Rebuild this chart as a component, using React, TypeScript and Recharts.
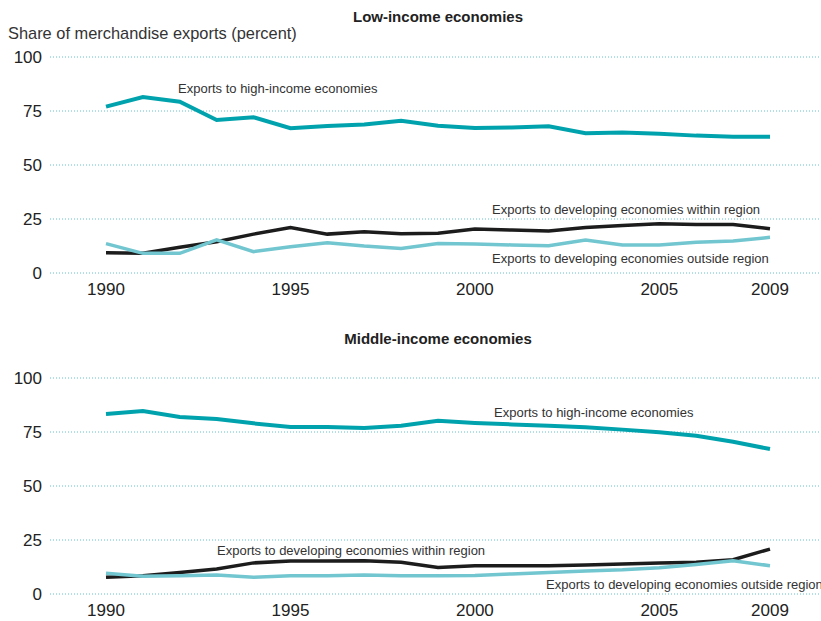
import React from "react";
import { CartesianGrid, Line, LineChart, XAxis, YAxis } from "recharts";

const years = [
  "1990", "1991", "1992", "1993", "1994", "1995", "1996", "1997", "1998", "1999",
  "2000", "2001", "2002", "2003", "2004", "2005", "2006", "2007", "2009",
];
const xTicks = ["1990", "1995", "2000", "2005", "2009"];
const yTicks = [0, 25, 50, 75, 100];

// Low-income economies
const highIncomeLow = [77, 81.5, 79.3, 70.8, 72.1, 67, 68, 68.7, 70.5, 68.2, 67.1, 67.4, 67.9, 64.7, 65.1, 64.5, 63.6, 63.1, 63.1];
const withinRegionLow = [9.4, 9.1, 11.9, 14.5, 18, 21.1, 18, 19.1, 18.2, 18.4, 20.4, 19.9, 19.4, 21.1, 22, 22.8, 22.5, 22.5, 20.5];
const outsideRegionLow = [13.6, 9.1, 9.1, 15.3, 9.9, 12.2, 14, 12.5, 11.4, 13.7, 13.4, 13, 12.6, 15.3, 13, 13, 14.2, 14.8, 16.5];

// Middle-income economies
const highIncomeMid = [83.3, 84.7, 81.9, 81, 79, 77.3, 77.3, 76.9, 77.9, 80.2, 79.2, 78.5, 77.9, 77.2, 76.1, 74.9, 73.3, 70.5, 67.1];
const withinRegionMid = [7.7, 8.5, 10, 11.6, 14.4, 15.3, 15.3, 15.4, 14.7, 12.3, 13.1, 13.1, 13.1, 13.4, 13.9, 14.4, 14.7, 15.9, 20.8];
const outsideRegionMid = [9.6, 8.2, 8.5, 8.8, 7.7, 8.5, 8.5, 8.8, 8.5, 8.5, 8.6, 9.3, 10, 10.6, 11.2, 12.2, 13.7, 15.4, 13.1];

const HIGH = "#00a3ad";
const WITHIN = "#1c1c1c";
const OUTSIDE = "#72c6d0";
const GRID = "#5fc2cc";
const TEXT = "#333333";
const FONT = "'Liberation Sans', Arial, sans-serif";

function buildRows(high: number[], within: number[], outside: number[]) {
  return years.map((year, i) => ({ year, high: high[i], within: within[i], outside: outside[i] }));
}

function Panel({ rows }: { rows: ReturnType<typeof buildRows> }) {
  const tick = { fill: "#222", fontSize: 17, fontFamily: FONT };
  return (
    <LineChart width={821} height={310} data={rows} margin={{ top: 57, right: 0, left: 0, bottom: 7 }}>
      <CartesianGrid vertical={false} stroke={GRID} strokeDasharray="1 2" />
      <XAxis
        dataKey="year"
        ticks={xTicks}
        interval={0}
        axisLine={false}
        tickLine={false}
        tickSize={6}
        tickMargin={4}
        height={30}
        padding={{ left: 56, right: 51 }}
        tick={tick}
      />
      <YAxis
        domain={[0, 100]}
        ticks={yTicks}
        width={50}
        axisLine={false}
        tickLine={false}
        tick={tick}
      />
      <Line dataKey="high" stroke={HIGH} strokeWidth={4} dot={false} isAnimationActive={false} />
      <Line dataKey="within" stroke={WITHIN} strokeWidth={3.5} dot={false} isAnimationActive={false} />
      <Line dataKey="outside" stroke={OUTSIDE} strokeWidth={3.5} dot={false} isAnimationActive={false} />
    </LineChart>
  );
}

export default function App() {
  const low = buildRows(highIncomeLow, withinRegionLow, outsideRegionLow);
  const mid = buildRows(highIncomeMid, withinRegionMid, outsideRegionMid);
  const note = { fill: TEXT, fontSize: 13, fontFamily: FONT };
  const title = { fill: "#222", fontSize: 15, fontWeight: 700, fontFamily: FONT };
  return (
    <div style={{ position: "absolute", left: 0, top: 0, width: 821, height: 621, background: "#fff", overflow: "hidden" }}>
      <div style={{ position: "absolute", left: 0, top: 0 }}>
        <Panel rows={low} />
      </div>
      <div style={{ position: "absolute", left: 0, top: 321 }}>
        <Panel rows={mid} />
      </div>
      <svg width={821} height={621} style={{ position: "absolute", left: 0, top: 0, pointerEvents: "none" }}>
        <text x={438} y={22} textAnchor="middle" {...title}>Low-income economies</text>
        <text x={8} y={39} fill={TEXT} fontSize={16.4} fontFamily={FONT}>Share of merchandise exports (percent)</text>
        <text x={178} y={93} {...note}>Exports to high-income economies</text>
        <text x={492} y={213.5} {...note}>Exports to developing economies within region</text>
        <text x={492} y={263} {...note}>Exports to developing economies outside region</text>

        <text x={438} y={344} textAnchor="middle" {...title}>Middle-income economies</text>
        <text x={494} y={416.5} {...note}>Exports to high-income economies</text>
        <text x={217} y={554.5} {...note}>Exports to developing economies within region</text>
        <text x={546} y={588.5} {...note}>Exports to developing economies outside region</text>
      </svg>
    </div>
  );
}
